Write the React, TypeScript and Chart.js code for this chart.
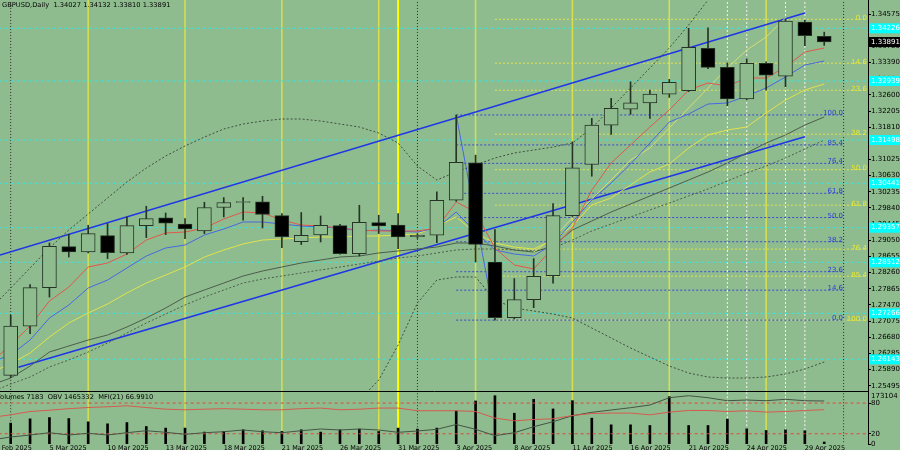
import React, { useEffect, useRef } from 'react';
import { Chart, registerables } from 'chart.js';

Chart.register(...registerables);

// ---------- DATA ----------
const dates = ['28 Feb 2025','3 Mar 2025','4 Mar 2025','5 Mar 2025','6 Mar 2025','7 Mar 2025','10 Mar 2025','11 Mar 2025','12 Mar 2025','13 Mar 2025','14 Mar 2025','17 Mar 2025','18 Mar 2025','19 Mar 2025','20 Mar 2025','21 Mar 2025','24 Mar 2025','25 Mar 2025','26 Mar 2025','27 Mar 2025','28 Mar 2025','31 Mar 2025','1 Apr 2025','2 Apr 2025','3 Apr 2025','4 Apr 2025','7 Apr 2025','8 Apr 2025','9 Apr 2025','10 Apr 2025','11 Apr 2025','14 Apr 2025','15 Apr 2025','16 Apr 2025','17 Apr 2025','18 Apr 2025','21 Apr 2025','22 Apr 2025','23 Apr 2025','24 Apr 2025','25 Apr 2025','28 Apr 2025','29 Apr 2025','30 Apr 2025'];

const open = [null,1.25749,1.26954,1.27893,1.28895,1.28763,1.29164,1.28739,1.29409,1.29595,1.29448,1.29277,1.29849,1.29971,1.29986,1.29653,1.29018,1.29179,1.29409,1.28724,1.29482,1.29423,1.29135,1.29172,1.30027,1.30939,1.28519,1.27159,1.27599,1.28186,1.29653,1.30900,1.31861,1.32252,1.32406,1.32619,1.32700,1.33736,1.33272,1.32504,1.33370,1.33059,1.34379,1.34027];
const high = [null,1.27216,1.27966,1.28983,1.29196,1.29416,1.29458,1.29619,1.29881,1.29717,1.29580,1.29978,1.30093,1.30093,1.30125,1.29702,1.29727,1.29643,1.29440,1.29905,1.29661,1.29702,1.29208,1.30230,1.32110,1.31128,1.29311,1.28113,1.28602,1.29947,1.31453,1.32025,1.32514,1.32920,1.32717,1.32978,1.34225,1.34240,1.33384,1.33482,1.33409,1.34440,1.34428,1.34132];
const low = [null,1.25700,1.26768,1.27663,1.28641,1.28740,1.28602,1.28707,1.29115,1.29189,1.29091,1.29213,1.29619,1.29538,1.29350,1.28871,1.28944,1.29008,1.28710,1.28665,1.29213,1.28846,1.29098,1.28993,1.30000,1.28519,1.27100,1.27130,1.27404,1.28005,1.29630,1.30614,1.31634,1.32123,1.32025,1.32538,1.32680,1.33238,1.32333,1.32480,1.32717,1.32797,1.33800,1.33810];
const close = [null,1.26954,1.27893,1.28903,1.28763,1.29213,1.28749,1.29409,1.29580,1.29465,1.29326,1.29849,1.29971,1.29996,1.29678,1.29140,1.29172,1.29416,1.28724,1.29489,1.29399,1.29130,1.29172,1.30027,1.30956,1.28951,1.27159,1.27599,1.28169,1.29653,1.30817,1.31861,1.32269,1.32406,1.32619,1.32905,1.33761,1.33272,1.32504,1.33370,1.33084,1.34404,1.34044,1.33891];

const maRed = [1.26077,1.26492,1.26956,1.27567,1.27908,1.28397,1.28495,1.28714,1.29056,1.29227,1.29252,1.29349,1.29569,1.29740,1.29716,1.29545,1.29422,1.29398,1.29349,1.29300,1.29276,1.29276,1.29276,1.29349,1.29984,1.29740,1.28861,1.28446,1.28348,1.28861,1.29349,1.30277,1.30937,1.31376,1.31816,1.32231,1.32719,1.32890,1.32817,1.33012,1.33012,1.33281,1.33647,1.33745];
const maBlue = [1.26077,1.26248,1.26614,1.27151,1.27469,1.27884,1.28079,1.28372,1.28665,1.28861,1.28934,1.29178,1.29325,1.29496,1.29496,1.29447,1.29398,1.29374,1.29349,1.29276,1.29300,1.29276,1.29252,1.29349,1.29740,1.29252,1.28812,1.28714,1.28665,1.28959,1.29496,1.30033,1.30448,1.30912,1.31425,1.31938,1.32133,1.32377,1.32402,1.32573,1.32768,1.33037,1.33330,1.33427];
const maYellow = [1.25833,1.26028,1.26297,1.26687,1.27029,1.27274,1.27493,1.27762,1.28006,1.28201,1.28397,1.28641,1.28812,1.28959,1.29056,1.29081,1.29105,1.29129,1.29129,1.29154,1.29154,1.29178,1.29203,1.29398,1.29618,1.29227,1.28983,1.28885,1.28836,1.29056,1.29398,1.29911,1.30082,1.30399,1.30717,1.30912,1.31303,1.31620,1.31742,1.31816,1.32158,1.32475,1.32719,1.32866];
const lineKhaki = [null,null,null,null,null,null,null,null,null,null,null,null,null,null,null,null,null,null,null,null,null,null,null,null,null,null,null,null,1.28763,1.29105,1.29593,1.30057,1.30521,1.31010,1.31303,1.31791,1.32280,1.32768,1.33256,1.33696,1.34013,1.34477,null,null];
const maGray = [1.25515,1.25686,1.25979,1.26321,1.26468,1.26614,1.26736,1.26932,1.27151,1.27396,1.27664,1.27835,1.28006,1.28177,1.28299,1.28397,1.28495,1.28568,1.28641,1.28665,1.28739,1.28788,1.28836,1.28885,1.28983,1.28983,1.28910,1.28812,1.28763,1.28910,1.29300,1.29520,1.29740,1.29935,1.30131,1.30326,1.30521,1.30717,1.30937,1.31181,1.31425,1.31620,1.31864,1.32060];
const maSlow = [1.25344,1.25540,1.25711,1.25955,1.26126,1.26321,1.26541,1.26785,1.27029,1.27249,1.27469,1.27664,1.27835,1.28006,1.28104,1.28177,1.28250,1.28324,1.28397,1.28470,1.28543,1.28617,1.28665,1.28739,1.28812,1.28836,1.28836,1.28812,1.28788,1.28861,1.29056,1.29276,1.29447,1.29618,1.29789,1.29960,1.30131,1.30302,1.30497,1.30692,1.30863,1.31059,1.31278,1.31498];
const bandUpper = [1.27396,1.27884,1.28372,1.28861,1.29300,1.29691,1.30082,1.30473,1.30814,1.31107,1.31352,1.31571,1.31767,1.31889,1.31962,1.32011,1.32011,1.31962,1.31889,1.31816,1.31669,1.31425,1.30863,1.30521,1.30717,1.30888,1.31059,1.31181,1.31254,1.31327,1.31425,1.31791,1.32280,1.32768,1.33256,1.33745,1.34306,1.34917,1.35528,null,null,null,null,null];
const bandLower = [null,null,null,null,null,null,null,null,null,null,null,null,null,null,null,null,null,null,1.24905,1.25149,1.25637,1.26492,1.27518,1.28079,1.28153,1.28153,1.27591,1.27396,1.27322,1.27249,1.27151,1.26907,1.26663,1.26419,1.26199,1.25979,1.25808,1.25711,1.25686,1.25686,1.25711,1.25784,1.25906,1.26077];

const volumes = [null,74800,90100,94700,91200,79400,72300,76900,62700,57000,57000,42700,44900,50900,47400,44900,50900,42700,50900,53400,44900,57000,53400,57000,118600,154200,173104,110400,160300,125700,155300,92600,68700,68700,66300,169600,66300,66300,89000,54500,48400,50900,47400,7183];
const obv = [412000,493000,547000,609000,547000,593000,547000,609000,663000,620000,566000,609000,636000,682000,636000,609000,663000,709000,682000,709000,682000,620000,655000,701000,831000,701000,528000,609000,771000,906000,1068000,1160000,1222000,1284000,1357000,1554000,1608000,1554000,1473000,1492000,1473000,1511000,1473000,1465332];
const mfi = [52,57,63.5,66,69,71.3,72.7,74.7,71.3,68,66.8,68,69,68,66.8,66.8,69,70.2,66.8,68,70.2,70.2,65,65,65,63.5,50.6,45.3,47.9,49.2,55.7,59.6,60.4,60.4,57,62.3,65.5,65.5,63.5,64.9,62.3,63.5,65.5,66.99];

const priceTicks = [1.34575,1.34180,1.33785,1.33390,1.32995,1.32600,1.32205,1.31810,1.31415,1.31025,1.30630,1.30235,1.29840,1.29445,1.29050,1.28655,1.28260,1.27865,1.27470,1.27075,1.26680,1.26285,1.25890,1.25495];
const dateTickIdx = [0,3,6,9,12,15,18,21,24,27,30,33,36,39,42];
const cyanLevels = [1.34226,1.32939,1.31498,1.30441,1.29357,1.28512,1.27266,1.26143];
const bidPrice = 1.33891;

const fibLevels = [0,14.6,23.6,38.2,50,61.8,76.4,85.4,100];
const fibBlue = { low: 1.27100, high: 1.32110, from: 24, to: 43.97 };
const fibYellow = { low: 1.27100, high: 1.34446, from: 26, to: 45.2 };
const channelUpper = [{ x: 0.4476, y: 1.28690 }, { x: 42.0, y: 1.34599 }];
const channelLower = [{ x: 1.4, y: 1.25948 }, { x: 42.0, y: 1.31579 }];
const zigzag = [{ x: 24, y: 1.32110 }, { x: 26, y: 1.27100 }];

const yellowVLines = [5, 10, 15, 20, 25, 30, 35, 40];
const brightVLines = [21];
const monthVLines = [1, 22, 44];
const whiteVLines = [38, 39, 41, 42];

const headerMain = 'GBPUSD,Daily  1.34027 1.34132 1.33810 1.33891';
const headerLow = 'Volumes 7183  OBV 1465332  MFI(21) 66.9910';
const volTopLabel = 173104;

// ---------- STYLE ----------
const BG = '#8fbc8f';
const OUTLINE = '#263426';
const FONT = '"DejaVu Sans"';
const X_MIN = 0.4476, X_MAX = 45.26;
const Y_MIN = 1.25369, Y_MAX = 1.34917;

function line(data: any[], color: string, width = 1, dash: number[] = [], order = 5, yAxisID = 'y') {
  return { type: 'line', data, borderColor: color, borderWidth: width, borderDash: dash, pointRadius: 0, tension: 0, fill: false, spanGaps: false, order, yAxisID };
}
function series(vals: (number | null)[], color: string, width = 1, dash: number[] = [], order = 5, yAxisID = 'y') {
  return line(vals.map((v, j) => ({ x: j, y: v })), color, width, dash, order, yAxisID);
}
function vline(x: number, lo: number, hi: number, color: string, width: number, dash: number[], yAxisID: string) {
  return line([{ x, y: lo }, { x, y: hi }], color, width, dash, 12, yAxisID);
}
function verticals(lo: number, hi: number, yAxisID: string) {
  const out: any[] = [];
  yellowVLines.forEach(x => out.push(vline(x, lo, hi, '#d9e04c', 1.5, [], yAxisID)));
  brightVLines.forEach(x => out.push(vline(x, lo, hi, '#ffff00', 2, [], yAxisID)));
  monthVLines.forEach(x => out.push(vline(x, lo, hi, '#2a2a2a', 1, [1, 2], yAxisID)));
  whiteVLines.forEach(x => out.push(vline(x, lo, hi, '#f4f4f4', 1, [2, 2], yAxisID)));
  return out;
}
const fibPrice = (f: any, lvl: number, inverted: boolean) =>
  inverted ? f.high - (f.high - f.low) * lvl / 100 : f.low + (f.high - f.low) * lvl / 100;

const mainOverlay = {
  id: 'mainOverlay',
  afterDatasetsDraw(chart: any) {
    const { ctx, scales: { x, y }, chartArea } = chart;
    ctx.save();
    ctx.font = `7px ${FONT}`;
    ctx.textAlign = 'right';
    ctx.textBaseline = 'alphabetic';
    fibLevels.forEach(l => {
      const py = y.getPixelForValue(fibPrice(fibBlue, l, false));
      ctx.fillStyle = '#2b3fd6';
      ctx.fillText(l.toFixed(1), x.getPixelForValue(fibBlue.to), py);
      const py2 = y.getPixelForValue(fibPrice(fibYellow, l, true));
      ctx.fillStyle = '#e8e832';
      ctx.fillText(l.toFixed(1), x.getPixelForValue(fibYellow.to), py2 + 0.5);
    });
    ctx.textAlign = 'left';
    ctx.textBaseline = 'top';
    ctx.fillStyle = '#000';
    ctx.font = `6.7px ${FONT}`;
    ctx.fillText(headerMain, 2, 2);
    ctx.font = `7px ${FONT}`;
    ctx.textBaseline = 'middle';
    cyanLevels.forEach(p => {
      const py = y.getPixelForValue(p);
      ctx.fillStyle = '#00ffff';
      ctx.fillRect(chartArea.right + 1, py - 5, 32, 10);
      ctx.fillStyle = '#ffffff';
      ctx.fillText(p.toFixed(5), chartArea.right + 3, py);
    });
    const by = y.getPixelForValue(bidPrice);
    ctx.fillStyle = '#000';
    ctx.fillRect(chartArea.right + 1, by - 5, 32, 10);
    ctx.fillStyle = '#ffffff';
    ctx.fillText(bidPrice.toFixed(5), chartArea.right + 3, by);
    ctx.restore();
  },
};

const lowOverlay = {
  id: 'lowOverlay',
  afterDatasetsDraw(chart: any) {
    const { ctx, scales, chartArea } = chart;
    ctx.save();
    ctx.font = `6.7px ${FONT}`;
    ctx.fillStyle = '#000';
    ctx.textAlign = 'left';
    ctx.textBaseline = 'top';
    ctx.fillText(headerLow, -4, 2);
    ctx.font = `7px ${FONT}`;
    ctx.textBaseline = 'middle';
    ctx.fillText(String(volTopLabel), chartArea.right + 3, scales.vol.getPixelForValue(volTopLabel));
    ctx.restore();
  },
};

function mainConfig(): any {
  const bodies = open.map((o, j) => (o == null ? null : { x: j, y: [o, close[j]] })).filter(Boolean) as any[];
  const bodyColors = bodies.map(d => (close[d.x]! < open[d.x]! ? '#000000' : BG));
  const wicks = high.map((h, j) => (h == null ? null : { x: j, y: [low[j], h] })).filter(Boolean) as any[];
  const datasets: any[] = [
    { type: 'bar', data: bodies, backgroundColor: bodyColors, borderColor: OUTLINE, borderWidth: 1, borderSkipped: false, barThickness: 14, grouped: false, order: 0 },
    { type: 'bar', data: wicks, backgroundColor: OUTLINE, borderWidth: 0, barThickness: 1, grouped: false, order: 1 },
    series(maRed, '#e0574c', 1, [], 3),
    series(maBlue, '#4768e0', 1, [], 4),
    series(maYellow, '#e2e24a', 1, [], 5),
    series(lineKhaki, '#d8dc70', 1, [], 5),
    series(maGray, '#4c5c4c', 1, [], 6),
    series(maSlow, '#4c5c4c', 1, [2, 2], 7),
    series(bandUpper, '#3f4f3f', 1, [2, 2], 7),
    series(bandLower, '#3f4f3f', 1, [2, 2], 7),
    line(zigzag, '#4a66e0', 1, [], 7),
    line(channelUpper, '#1f36e6', 1.6, [], 8),
    line(channelLower, '#1f36e6', 1.6, [], 8),
  ];
  fibLevels.forEach(l => {
    const p = fibPrice(fibBlue, l, false);
    datasets.push(line([{ x: fibBlue.from, y: p }, { x: fibBlue.to, y: p }], '#3a48d0', 1, [2, 2], 9));
    const p2 = fibPrice(fibYellow, l, true);
    datasets.push(line([{ x: fibYellow.from, y: p2 }, { x: fibYellow.to, y: p2 }], '#e2e24c', 1, [2, 2], 9));
  });
  cyanLevels.forEach(p => datasets.push(line([{ x: X_MIN - 1, y: p }, { x: X_MAX + 1, y: p }], '#2de8e8', 1, [3, 3], 10)));
  datasets.push(...verticals(Y_MIN - 0.01, Y_MAX + 0.01, 'y'));
  return {
    type: 'bar',
    data: { datasets },
    plugins: [mainOverlay],
    options: {
      responsive: false, maintainAspectRatio: false, animation: false, events: [],
      layout: { padding: 0 },
      plugins: { legend: { display: false }, tooltip: { enabled: false } },
      scales: {
        x: {
          type: 'linear', min: X_MIN, max: X_MAX, offset: false,
          ticks: { display: false }, grid: { display: false, drawTicks: false },
          border: { display: true, color: '#000', width: 1 },
          afterFit: (s: any) => { s.height = 1; s.paddingLeft = 0; s.paddingRight = 0; },
        },
        y: {
          type: 'linear', position: 'right', min: Y_MIN, max: Y_MAX, beginAtZero: false,
          afterBuildTicks: (s: any) => { s.ticks = priceTicks.map(v => ({ value: v })); },
          ticks: { font: { family: FONT, size: 7 }, color: '#000', padding: 0, callback: (v: any) => Number(v).toFixed(5) },
          grid: { display: true, drawOnChartArea: false, drawTicks: true, tickLength: 3, color: '#000' },
          border: { display: true, color: '#000' },
          afterFit: (s: any) => { s.width = 32; s.paddingTop = 0; s.paddingBottom = 0; },
        },
      },
    },
  };
}

function lowConfig(): any {
  const datasets: any[] = [
    { type: 'bar', data: volumes.map((v, j) => (v == null ? null : { x: j, y: v })).filter(Boolean), backgroundColor: '#000', borderWidth: 0, barThickness: 2, grouped: false, yAxisID: 'vol', order: 6 },
    series(mfi, '#d65a4e', 1, [], 2, 'mfi'),
    series(obv, '#445444', 1, [], 3, 'obv'),
    line([{ x: X_MIN - 1, y: 80 }, { x: X_MAX + 1, y: 80 }], '#e0463c', 1, [3, 3], 4, 'mfi'),
    line([{ x: X_MIN - 1, y: 20 }, { x: X_MAX + 1, y: 20 }], '#e0463c', 1, [3, 3], 4, 'mfi'),
    ...verticals(-20, 130, 'mfi'),
  ];
  return {
    type: 'bar',
    data: { datasets },
    plugins: [lowOverlay],
    options: {
      responsive: false, maintainAspectRatio: false, animation: false, events: [],
      layout: { padding: 0 },
      plugins: { legend: { display: false }, tooltip: { enabled: false } },
      scales: {
        x: {
          type: 'linear', min: X_MIN, max: X_MAX, offset: false,
          afterBuildTicks: (s: any) => { s.ticks = dateTickIdx.map(v => ({ value: v })); },
          ticks: { autoSkip: false, maxRotation: 0, align: 'start', padding: 0, font: { family: FONT, size: 6.5 }, color: '#000', callback: (v: any) => dates[v] },
          grid: { display: false, drawTicks: false, tickLength: 0 },
          border: { display: false },
          afterFit: (s: any) => { s.height = 8; s.paddingLeft = 0; s.paddingRight = 0; },
        },
        mfi: {
          type: 'linear', position: 'right', min: 0, max: 101.6, beginAtZero: false,
          afterBuildTicks: (s: any) => { s.ticks = [0, 20, 80].map(v => ({ value: v })); },
          ticks: { font: { family: FONT, size: 7 }, color: '#000', padding: 0 },
          grid: { display: true, drawOnChartArea: false, drawTicks: true, tickLength: 3, color: '#000' },
          border: { display: true, color: '#000' },
          afterFit: (s: any) => { s.width = 32; s.paddingTop = 0; s.paddingBottom = 0; },
        },
        vol: { type: 'linear', display: false, min: 0, max: 186367, beginAtZero: false },
        obv: { type: 'linear', display: false, min: 304332, max: 1708332, beginAtZero: false },
      },
    },
  };
}

export default function App() {
  const mainRef = useRef<HTMLCanvasElement>(null);
  const lowRef = useRef<HTMLCanvasElement>(null);
  useEffect(() => {
    document.body.style.margin = '0';
    document.body.style.background = BG;
    const c1 = new Chart(mainRef.current as HTMLCanvasElement, mainConfig());
    const c2 = new Chart(lowRef.current as HTMLCanvasElement, lowConfig());
    return () => { c1.destroy(); c2.destroy(); };
  }, []);
  return (
    <div style={{ position: 'relative', width: 900, height: 450, background: BG, overflow: 'hidden' }}>
      <canvas ref={mainRef} width={900} height={392} style={{ position: 'absolute', left: 0, top: 0 }} />
      <canvas ref={lowRef} width={900} height={60} style={{ position: 'absolute', left: 0, top: 392 }} />
    </div>
  );
}
